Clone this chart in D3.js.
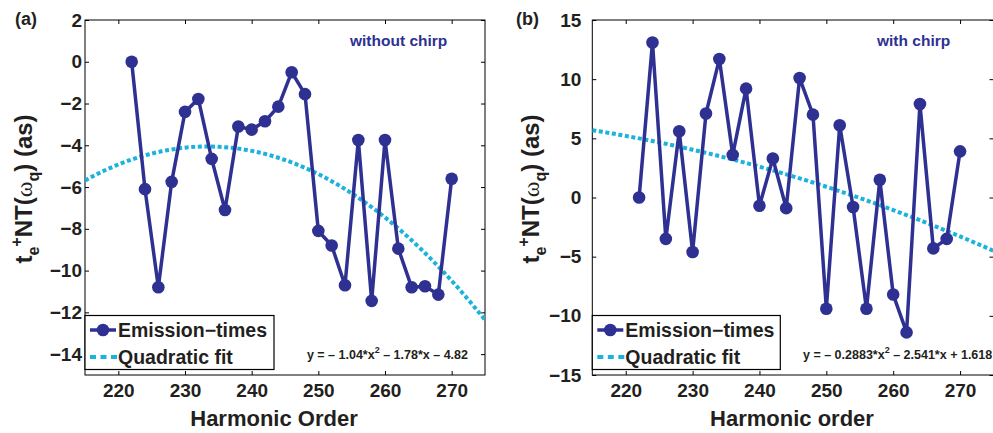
<!DOCTYPE html>
<html>
<head>
<meta charset="utf-8">
<script src="https://cdn.jsdelivr.net/npm/d3@7"></script>
<style>
  html, body { margin: 0; padding: 0; background: #fff; }
  svg { display: block; font-family: "Liberation Sans", Arial, Helvetica, sans-serif; }
</style>
</head>
<body>
<svg id="chart" width="993" height="433"></svg>
<script>
// Harmonic orders shared by both panels
const harmonics = [222, 224, 226, 228, 230, 232, 234, 236, 238, 240, 242, 244, 246,
                   248, 250, 252, 254, 256, 258, 260, 262, 264, 266, 268, 270];

// Emission times (as), panel (a): without chirp
const emissionNoChirp = [0, -6.1, -10.8, -5.75, -2.4, -1.78, -4.65, -7.1, -3.1, -3.25, -2.85, -2.15, -0.5,
                         -1.55, -8.1, -8.8, -10.7, -3.75, -11.45, -3.75, -8.95, -10.8, -10.75, -11.15, -5.6];

// Emission times (as), panel (b): with chirp
const emissionChirp = [0, 13.1, -3.5, 5.6, -4.6, 7.1, 11.7, 3.6, 9.2, -0.7, 3.3, -0.9, 10.1,
                       7.0, -9.4, 6.1, -0.8, -9.4, 1.5, -8.2, -11.4, 7.9, -4.3, -3.5, 3.9];

// Quadratic fit coefficients [a, b, c] for y = a*x^2 + b*x + c (x centred and scaled)
const fitNoChirp = [-1.04, -1.78, -4.82];
const fitChirp = [-0.2883, -2.541, 1.618];

// Axis ticks
const xTicks = [220, 230, 240, 250, 260, 270];
const yTicksA = [-14, -12, -10, -8, -6, -4, -2, 0, 2];
const yTicksB = [-15, -10, -5, 0, 5, 10, 15];

const legendLabels = ["Emission\u2212times", "Quadratic fit"];

const NAVY = "#2e3192";
const CYAN = "#1bb3de";
const INK = "#231f20";

const svg = d3.select("#chart");

// Centring used by the fit: x = (h - mean) / std over the harmonic orders
const hMean = d3.mean(harmonics);
const hStd = d3.deviation(harmonics);

const panels = [
  { tag: "(a)", tagX: 15, values: emissionNoChirp, fit: fitNoChirp, yDomain: [-15, 2], yTicks: yTicksA,
    x0: 85, x1: 485, y0: 20, y1: 375, tickGap: 3, note: "without chirp", noteX: 350,
    xTitle: "Harmonic Order", xTitleX: 274, eqX: 468, eqAnchor: "end", legendW: 189 },
  { tag: "(b)", tagX: 516, values: emissionChirp, fit: fitChirp, yDomain: [-15, 15], yTicks: yTicksB,
    x0: 592.3, x1: 993.5, y0: 20, y1: 375, tickGap: 11, note: "with chirp", noteX: 877,
    xTitle: "Harmonic order", xTitleX: 792, eqX: 803, eqAnchor: "start", legendW: 188 }
];

function fmtSigned(v, first) {
  const s = v < 0 ? "\u2013 " : "+ ";
  return (first ? "" : " ") + s + Math.abs(v);
}

panels.forEach((p, i) => {
  const x = d3.scaleLinear().domain([215, 275]).range([p.x0, p.x1]);
  const y = d3.scaleLinear().domain(p.yDomain).range([p.y1, p.y0]);
  const g = svg.append("g");

  const clipId = "clip" + i;
  svg.append("defs").append("clipPath").attr("id", clipId)
    .append("rect").attr("x", p.x0).attr("y", p.y0)
    .attr("width", p.x1 - p.x0).attr("height", p.y1 - p.y0);

  // Ticks (inward, on all four sides) with axis generators
  const tl = 4;
  g.append("g").attr("transform", `translate(0,${p.y1})`)
    .call(d3.axisBottom(x).tickValues(xTicks).tickSize(-tl).tickPadding(8).tickFormat(d3.format("d")))
    .call(a => a.select(".domain").remove())
    .call(a => a.selectAll("line").attr("stroke", "#000"))
    .call(a => a.selectAll("text").attr("fill", INK).attr("font-size", 19).attr("font-weight", "bold")
      .attr("y", 22).attr("dy", 0));
  g.append("g").attr("transform", `translate(0,${p.y0})`)
    .call(d3.axisTop(x).tickValues(xTicks).tickSize(-tl).tickFormat(""))
    .call(a => a.select(".domain").remove())
    .call(a => a.selectAll("line").attr("stroke", "#000"));
  g.append("g").attr("transform", `translate(${p.x0},0)`)
    .call(d3.axisLeft(y).tickValues(p.yTicks).tickSize(-tl).tickPadding(p.tickGap).tickFormat(d3.format("d")))
    .call(a => a.select(".domain").remove())
    .call(a => a.selectAll("line").attr("stroke", "#000"))
    .call(a => a.selectAll("text").attr("fill", INK).attr("font-size", 19).attr("font-weight", "bold")
      .attr("x", -p.tickGap));
  g.append("g").attr("transform", `translate(${p.x1},0)`)
    .call(d3.axisRight(y).tickValues(p.yTicks).tickSize(-tl).tickFormat(""))
    .call(a => a.select(".domain").remove())
    .call(a => a.selectAll("line").attr("stroke", "#000"));

  // Frame
  g.append("rect").attr("x", p.x0).attr("y", p.y0)
    .attr("width", p.x1 - p.x0).attr("height", p.y1 - p.y0)
    .attr("fill", "none").attr("stroke", "#000").attr("stroke-width", 1);

  // Quadratic fit curve
  const [a2, a1, a0] = p.fit;
  const hs = d3.range(215, 275.01, 0.5);
  const curve = hs.map(h => { const t = (h - hMean) / hStd; return [h, a2 * t * t + a1 * t + a0]; });
  g.append("path").datum(curve)
    .attr("clip-path", `url(#${clipId})`)
    .attr("fill", "none").attr("stroke", CYAN).attr("stroke-width", 4)
    .attr("stroke-dasharray", "4,2.6")
    .attr("d", d3.line().x(d => x(d[0])).y(d => y(d[1])));

  // Emission-time series
  const pts = harmonics.map((h, k) => [h, p.values[k]]);
  g.append("path").datum(pts)
    .attr("fill", "none").attr("stroke", NAVY).attr("stroke-width", 3.5)
    .attr("stroke-linejoin", "miter")
    .attr("d", d3.line().x(d => x(d[0])).y(d => y(d[1])));
  g.selectAll("circle.pt").data(pts).join("circle").attr("class", "pt")
    .attr("cx", d => x(d[0])).attr("cy", d => y(d[1])).attr("r", 6.3).attr("fill", NAVY);

  // Annotation
  g.append("text").attr("x", p.noteX).attr("y", 46)
    .attr("fill", NAVY).attr("font-size", 15.5).attr("font-weight", "bold").text(p.note);

  // Fit equation
  const eq = g.append("text").attr("x", p.eqX).attr("y", 358.5).attr("text-anchor", p.eqAnchor)
    .attr("fill", INK).attr("font-size", 12.5).attr("font-weight", "bold");
  eq.append("tspan").text("y = " + fmtSigned(a2, true) + "*x");
  eq.append("tspan").attr("font-size", 9).attr("dy", -6).text("2");
  eq.append("tspan").attr("dy", 6).text(fmtSigned(a1) + "*x" + fmtSigned(a0));

  // Legend
  const lx = p.x0, ly = 315.5, lw = p.legendW, lh = 54;
  const lg = g.append("g");
  lg.append("rect").attr("x", lx).attr("y", ly).attr("width", lw).attr("height", lh)
    .attr("fill", "#fff").attr("stroke", "#000").attr("stroke-width", 1.2);
  lg.append("line").attr("x1", lx + 5).attr("x2", lx + 31).attr("y1", 330).attr("y2", 330)
    .attr("stroke", NAVY).attr("stroke-width", 3.5);
  lg.append("circle").attr("cx", lx + 18).attr("cy", 330).attr("r", 6.3).attr("fill", NAVY);
  lg.append("line").attr("x1", lx + 5).attr("x2", lx + 32).attr("y1", 357).attr("y2", 357)
    .attr("stroke", CYAN).attr("stroke-width", 4).attr("stroke-dasharray", "6,4.5");
  lg.selectAll("text").data(legendLabels).join("text")
    .attr("x", lx + 33).attr("y", (d, k) => 337 + k * 26.5)
    .attr("fill", INK).attr("font-size", 19.5).attr("font-weight", "bold").text(d => d);

  // Axis titles
  svg.append("text").attr("x", p.xTitleX).attr("y", 426)
    .attr("text-anchor", "middle").attr("fill", INK).attr("font-size", 22).attr("font-weight", "bold")
    .text(p.xTitle);

  const yt = svg.append("text").attr("transform", `translate(${p.x0 - 53},189) rotate(-90)`)
    .attr("text-anchor", "middle").attr("fill", INK).attr("font-size", 24).attr("font-weight", "bold");
  yt.append("tspan").text("t");
  yt.append("tspan").attr("font-size", 16).attr("dy", 7).text("e");
  yt.append("tspan").attr("font-size", 16).attr("dy", -17).text("+");
  yt.append("tspan").attr("dy", 10).text("NT(");
  yt.append("tspan").attr("font-family", "'Liberation Serif', serif").attr("font-weight", "normal").text("\u03c9");
  yt.append("tspan").attr("font-size", 16).attr("dy", 7).text("q");
  yt.append("tspan").attr("dy", -7).text(") (as)");

  // Panel tag
  svg.append("text").attr("x", p.tagX).attr("y", 25).attr("fill", INK)
    .attr("font-size", 18).attr("font-weight", "bold").text(p.tag);
});
</script>
</body>
</html>
